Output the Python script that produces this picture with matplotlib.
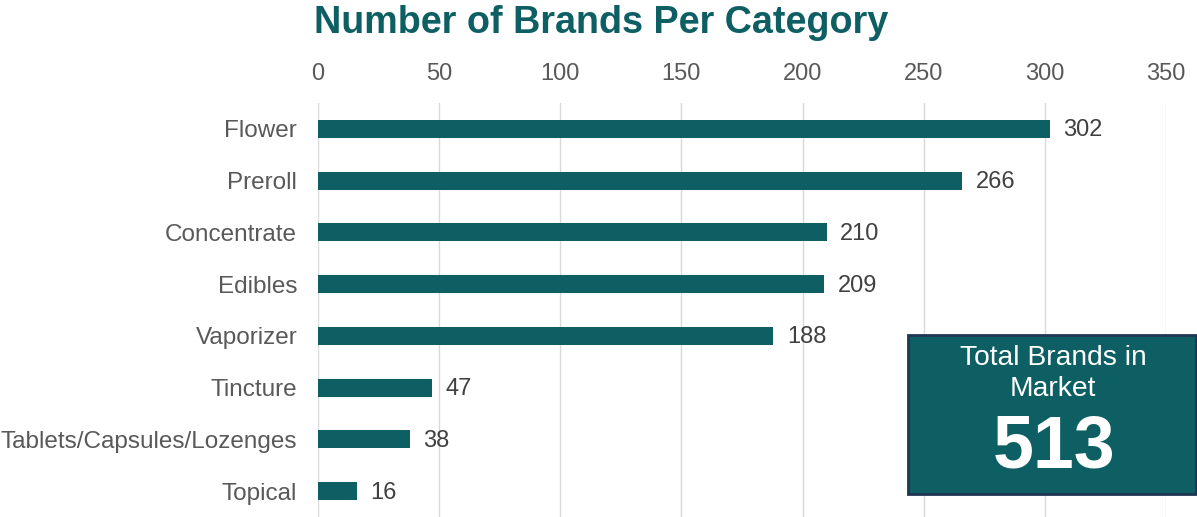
import matplotlib
matplotlib.use("Agg")
import matplotlib.pyplot as plt
from matplotlib.patches import Rectangle

plt.rcParams['font.family'] = ['Liberation Sans', 'DejaVu Sans']

# data
categories = ["Flower", "Preroll", "Concentrate", "Edibles", "Vaporizer",
              "Tincture", "Tablets/Capsules/Lozenges", "Topical"]
brands = [302, 266, 210, 209, 188, 47, 38, 16]
total_brands = 513
xticks = [0, 50, 100, 150, 200, 250, 300, 350]

teal = "#0e5f63"
gray = "#595959"

fig = plt.figure(figsize=(11.97, 5.17), dpi=100)
ax = fig.add_axes([318/1197, 0, 848/1197, 414/517])

y = range(len(categories))
ax.barh(y, brands, height=0.35, color=teal, zorder=3)
for i, v in enumerate(brands):
    ax.text(v + 5.5, i + 0.03, str(v), va="center", ha="left", fontsize=17, color="#404040")

ax.set_ylim(len(categories) - 0.5, -0.5)
ax.set_xlim(0, 350)
ax.set_yticks(list(y))
ax.set_yticklabels(categories)
ax.set_xticks(xticks)
ax.xaxis.tick_top()
ax.tick_params(axis="x", length=0, pad=13, labelsize=17, labelcolor=gray)
ax.tick_params(axis="y", length=0, pad=15, labelsize=17.5, labelcolor=gray)
ax.grid(axis="x", color="#d9d9d9", linewidth=1, zorder=0)
for s in ax.spines.values():
    s.set_visible(False)

fig.text(601/1197, 1 - 23/517, "Number of Brands Per Category", ha="center", va="center",
         fontsize=27.2, fontweight="bold", color=teal)

# total box
box = Rectangle((908/1197, 23/517), 288/1197, 159/517, transform=fig.transFigure,
                facecolor=teal, edgecolor="#1f3553", linewidth=2, zorder=5)
fig.add_artist(box)
fig.text(1053/1197, 1 - 358/517, "Total Brands in", ha="center", va="center",
         fontsize=20.3, color="white", zorder=6)
fig.text(1053/1197, 1 - 389/517, "Market", ha="center", va="center",
         fontsize=20.3, color="white", zorder=6)
fig.text(1054/1197, 1 - 448/517, str(total_brands), ha="center", va="center",
         fontsize=53, fontweight="bold", color="white", zorder=6)

fig.savefig("out.png", dpi=100)
